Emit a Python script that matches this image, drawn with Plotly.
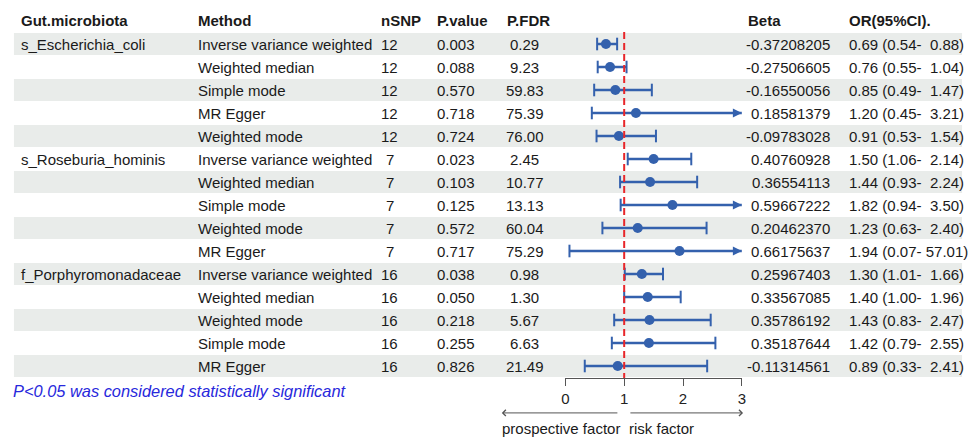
import plotly.graph_objects as go

# ---------------- data ----------------
headers = ["Gut.microbiota", "Method", "nSNP", "P.value", "P.FDR", "Beta", "OR(95%CI)."]
microbiota = ["s_Escherichia_coli", "", "", "", "",
              "s_Roseburia_hominis", "", "", "", "",
              "f_Porphyromonadaceae", "", "", "", ""]
methods = ["Inverse variance weighted", "Weighted median", "Simple mode", "MR Egger", "Weighted mode",
           "Inverse variance weighted", "Weighted median", "Simple mode", "Weighted mode", "MR Egger",
           "Inverse variance weighted", "Weighted median", "Weighted mode", "Simple mode", "MR Egger"]
nsnp = [12, 12, 12, 12, 12, 7, 7, 7, 7, 7, 16, 16, 16, 16, 16]
pval = [0.003, 0.088, 0.570, 0.718, 0.724, 0.023, 0.103, 0.125, 0.572, 0.717, 0.038, 0.050, 0.218, 0.255, 0.826]
pfdr = [0.29, 9.23, 59.83, 75.39, 76.00, 2.45, 10.77, 13.13, 60.04, 75.29, 0.98, 1.30, 5.67, 6.63, 21.49]
beta = [-0.37208205, -0.27506605, -0.16550056, 0.18581379, -0.09783028,
        0.40760928, 0.36554113, 0.59667222, 0.20462370, 0.66175637,
        0.25967403, 0.33567085, 0.35786192, 0.35187644, -0.11314561]
odds = [0.69, 0.76, 0.85, 1.20, 0.91, 1.50, 1.44, 1.82, 1.23, 1.94, 1.30, 1.40, 1.43, 1.42, 0.89]
ci_lo = [0.54, 0.55, 0.49, 0.45, 0.53, 1.06, 0.93, 0.94, 0.63, 0.07, 1.01, 1.00, 0.83, 0.79, 0.33]
ci_hi = [0.88, 1.04, 1.47, 3.21, 1.54, 2.14, 2.24, 3.50, 2.40, 57.01, 1.66, 1.96, 2.47, 2.55, 2.41]
x_ticks = [0, 1, 2, 3]
x_max = 3
note = "P<0.05 was considered statistically significant"
left_label = "prospective factor"
right_label = "risk factor"

# ---------------- style ----------------
FONT = "Liberation Sans, Arial, sans-serif"
FS = 15
TXT = "#1a1a1a"
BLUE = "#3461ad"
RED = "#e8262a"
BAND = "#e9ecea"
GREY = "#555555"

W, H = 972, 437
rows = list(range(1, len(methods) + 1))

fig = go.Figure()

# alternating row bands
shapes = []
for r in rows:
    if r % 2 == 1:
        shapes.append(dict(type="rect", xref="x", yref="y", x0=10, x1=966,
                           y0=r - 0.48, y1=r + 0.48, fillcolor=BAND,
                           line=dict(width=0), layer="below"))

annotations = []


def txt(x, y, s, anchor="left", bold=False, color=TXT, italic=False, size=FS, xref="x", yref="y"):
    if bold:
        s = "<b>" + s + "</b>"
    if italic:
        s = "<i>" + s + "</i>"
    annotations.append(dict(x=x, y=y, xref=xref, yref=yref, text=s, showarrow=False,
                            xanchor=anchor, yanchor="middle", borderpad=0, borderwidth=0,
                            font=dict(family=FONT, size=size, color=color)))


# header row
header_x = [17, 196, 380, 437, 507, 750, 852]
for hx, h in zip(header_x, headers):
    txt(hx, -0.04, h, bold=True)

# table cells
for i, r in enumerate(rows):
    txt(17, r, microbiota[i])
    txt(196, r, methods[i])
    txt(389, r, str(nsnp[i]), anchor="center")
    txt(437, r, f"{pval[i]:.3f}")
    txt(525, r, f"{pfdr[i]:.2f}", anchor="center")
    txt(833, r, f"{beta[i]:.8f}", anchor="right")
    orstr = f"{odds[i]:.2f} ({ci_lo[i]:.2f}-{ci_hi[i]:6.2f})".replace(" ", "\u00a0")
    txt(852, r, orstr)

# footnote
txt(9, 16.08, note, italic=True, color="#2828dc", size=16.4)

# ---------------- forest plot (x2 / y2) ----------------
lx, ly = [], []
for i, r in enumerate(rows):
    lx += [ci_lo[i], min(ci_hi[i], x_max), None]
    ly += [r, r, None]
fig.add_trace(go.Scatter(x=lx, y=ly, mode="lines", xaxis="x2", yaxis="y2",
                         line=dict(color=BLUE, width=2.5), hoverinfo="skip"))

cap_x, cap_y = [], []
for i, r in enumerate(rows):
    cap_x.append(ci_lo[i]); cap_y.append(r)
    if ci_hi[i] <= x_max:
        cap_x.append(ci_hi[i]); cap_y.append(r)
fig.add_trace(go.Scatter(x=cap_x, y=cap_y, mode="markers", xaxis="x2", yaxis="y2",
                         marker=dict(symbol="line-ns", size=9, color=BLUE,
                                     line=dict(color=BLUE, width=2)),
                         cliponaxis=False, hoverinfo="skip"))

arr_y = [r for i, r in enumerate(rows) if ci_hi[i] > x_max]
fig.add_trace(go.Scatter(x=[x_max] * len(arr_y), y=arr_y, mode="markers", xaxis="x2", yaxis="y2",
                         marker=dict(symbol="arrow-right", size=9, color=BLUE,
                                     line=dict(width=0)),
                         cliponaxis=False, hoverinfo="skip"))

fig.add_trace(go.Scatter(x=odds, y=rows, mode="markers", xaxis="x2", yaxis="y2",
                         marker=dict(symbol="circle", size=10, color=BLUE),
                         cliponaxis=False, hoverinfo="skip"))

# reference line at OR = 1
fig.add_trace(go.Scatter(x=[1, 1], y=[0.48, 15.52], mode="lines", xaxis="x2", yaxis="y2",
                         line=dict(color=RED, width=2, dash="7px,4px"), hoverinfo="skip"))

# direction arrows and labels under the axis
for tip, tail in [(-1.08, 0.91), (3.02, 1.08)]:
    annotations.append(dict(x=tip, y=17.04, ax=tail, ay=17.04, xref="x2", yref="y",
                            axref="x2", ayref="y", text="", showarrow=True,
                            arrowhead=4, arrowsize=1.2, arrowwidth=1, arrowcolor=GREY))
txt(502, 17.7, left_label)
txt(630, 17.7, right_label)

fig.update_layout(
    width=W, height=H,
    margin=dict(l=0, r=0, t=0, b=0),
    paper_bgcolor="white", plot_bgcolor="rgba(0,0,0,0)",
    showlegend=False,
    font=dict(family=FONT, size=FS, color=TXT),
    xaxis=dict(range=[0, W], domain=[0, 1], visible=False, fixedrange=True),
    yaxis=dict(range=[18.087, -0.913], domain=[0, 1], visible=False, fixedrange=True),
    xaxis2=dict(range=[0, x_max], domain=[566 / W, 744 / W], anchor="y2",
                tickvals=x_ticks, ticks="outside", ticklen=7, tickwidth=1, tickcolor=GREY,
                showline=True, linecolor=GREY, linewidth=1, showgrid=False, zeroline=False,
                tickfont=dict(family=FONT, size=FS, color="#222222"), fixedrange=True),
    yaxis2=dict(range=[15.522, -0.913], domain=[59 / H, 1], anchor="x2", visible=False,
                fixedrange=True),
    shapes=shapes,
    annotations=annotations,
)

fig.write_html("out.html", config={"displayModeBar": False},
               post_script="document.body.style.margin='0px';document.body.style.overflow='hidden';")
